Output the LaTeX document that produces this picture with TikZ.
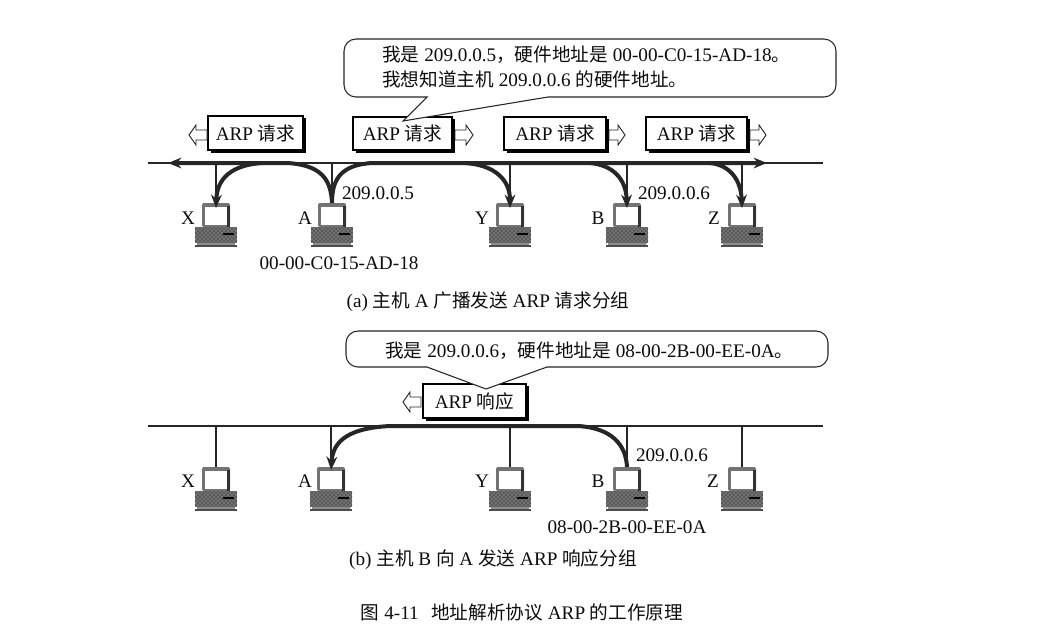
\documentclass[tikz,border=0pt]{standalone}
\usepackage{fontspec}
\setmainfont{Liberation Serif}
\newfontfamily\cjk[Scale=0.97]{Noto Sans CJK SC}
\usetikzlibrary{arrows.meta,calc,patterns}
\newcommand{\zh}[1]{{\cjk #1}}
\tikzset{
  txt/.style={inner sep=0pt,font=\fontsize{14.4}{17}\selectfont,text=black!95},
  busline/.style={line width=1.1pt,black!85},
  tap/.style={line width=0.9pt,black!85},
  flow/.style={line width=3pt,black!85,line cap=butt},
  flowtip/.style={flow,-{Stealth[length=10pt,width=8pt]}},
  pktbox/.style={draw=black,line width=0.8pt,fill=white},
  pktshadow/.style={fill=black},
  hollow/.style={draw=black!85,line width=0.7pt,fill=white,line join=miter},
  callout/.style={draw=black!85,line width=0.8pt,fill=white},
  pc/.style={pattern=crosshatch dots,pattern color=black},
}
% computer: name, centre x, top y
\newcommand{\computer}[3]{%
  \begin{scope}[shift={(#2,#3)}]
    \coordinate (#1) at (0,0);
    \fill[black!55,rounded corners=1.5pt] (-14,0) rectangle (14,24);
    \fill[black!80] (11,3) rectangle (14,24);
    \fill[white] (-11,4) rectangle (11,22);
    \fill[black!55] (-21,24) rectangle (21,40);
    \fill[pc] (-21,24) rectangle (21,40);
    \fill[black] (7,30) rectangle (18,32);
    \fill[black!45] (-19,40) rectangle (19,41.5);
    \fill[black!70] (-21,41.5) rectangle (21,44);
  \end{scope}}
% packet box with thick shadow: name, x0,y0,x1,y1,text
\newcommand{\packet}[6]{%
  \fill[pktshadow] (#2+2.5,#3+2) rectangle (#4+2.5,#5+2.5);
  \draw[pktbox] (#2,#3) rectangle (#4,#5);
  \node[txt] (#1) at ({(#2+#4)/2},{(#3+#5)/2}) {#6};}
\newcommand{\rightarrowbox}[3]{% x0, x1, y
  \draw[hollow] (#1,#3-5) -- (#2-7,#3-5) -- (#2-7,#3-10) -- (#2,#3) -- (#2-7,#3+10) -- (#2-7,#3+5) -- (#1,#3+5) -- cycle;}
\newcommand{\leftarrowbox}[3]{% x0(tip), x1, y
  \draw[hollow] (#2,#3-5) -- (#1+7,#3-5) -- (#1+7,#3-10) -- (#1,#3) -- (#1+7,#3+10) -- (#1+7,#3+5) -- (#2,#3+5) -- cycle;}
\begin{document}
\begin{tikzpicture}[x=0.75pt,y=-0.75pt]
\useasboundingbox (0,0) rectangle (1048,637);
\fill[white] (0,0) rectangle (1048,637);

%%%% part (a)
\coordinate (busLa) at (148,163);
\coordinate (busRa) at (823,163);
\draw[busline] (busLa) -- (busRa);
\computer{Xa}{216}{203}
\computer{Aa}{332}{203}
\computer{Ya}{510}{203}
\computer{Ba}{627}{203}
\computer{Za}{742}{203}
\foreach \c in {Xa,Aa,Ya,Ba,Za} \draw[tap] (\c |- busLa) -- (\c);

\coordinate (ALa) at (168,163);
\coordinate (ARa) at (767,163);
\draw[flowtip] (Aa) .. controls (331,180) and (322,165) .. (287,163) -- (ALa);
\draw[flowtip] (Aa) .. controls (332,180) and (340,165) .. (372,163) -- (ARa);
\draw[flowtip] (262,163) .. controls (232,165) and (217,178) .. ($(Xa)+(0,5)$);
\draw[flowtip] (465,163) .. controls (495,165) and (510,180) .. ($(Ya)+(0,5)$);
\draw[flowtip] (590,163) .. controls (612,165) and (626,178) .. ($(Ba)+(0,5)$);
\draw[flowtip] (710,163) .. controls (730,165) and (741,180) .. ($(Za)+(0,5)$);

\packet{p1}{208}{116}{303}{150}{ARP \zh{请求}}
\packet{p2}{353}{117}{452}{150}{ARP \zh{请求}}
\packet{p3}{504}{117}{606}{150}{ARP \zh{请求}}
\packet{p4}{646}{117}{747}{150}{ARP \zh{请求}}
\leftarrowbox{189}{207}{135}
\rightarrowbox{455}{473}{135}
\rightarrowbox{609}{625}{135}
\rightarrowbox{750}{766}{135}

\draw[callout] (427,97) -- (400,97) [rounded corners=9pt] -- (344,97) -- (344,39) -- (836,39) -- (836,97) -- (600,97) [sharp corners] -- (548,97) -- (403,121) -- cycle;
\node[txt,anchor=west] (c1a) at (382,55) {\zh{我是} 209.0.0.5\zh{，硬件地址是} 00-00-C0-15-AD-18\zh{。}};
\node[txt,anchor=west] (c1b) at (382,79) {\zh{我想知道主机} 209.0.0.6 \zh{的硬件地址。}};

\node[txt] (lXa) at (188,218) {X};
\node[txt] (lAa) at (305,218) {A};
\node[txt] (lYa) at (482,218) {Y};
\node[txt] (lBa) at (598,218) {B};
\node[txt] (lZa) at (714,218) {Z};
\node[txt] (ipA) at (378,193) {209.0.0.5};
\node[txt] (ipBa) at (674,193) {209.0.0.6};
\node[txt] (macA) at (339,263) {00-00-C0-15-AD-18};
\node[txt] (capa) at (488,302) {(a) \zh{主机} A \zh{广播发送} ARP \zh{请求分组}};

%%%% part (b)
\coordinate (busLb) at (148,426);
\coordinate (busRb) at (823,426);
\draw[busline] (busLb) -- (busRb);
\computer{Xb}{216}{467}
\computer{Ab}{331}{467}
\computer{Yb}{510}{467}
\computer{Bb}{627}{467}
\computer{Zb}{742}{467}
\foreach \c in {Xb,Ab,Yb,Bb,Zb} \draw[tap] (\c |- busLb) -- (\c);
\draw[flowtip] (Bb) .. controls (626,445) and (612,428) .. (578,426) -- (390,426) .. controls (350,428) and (333,440) .. ($(Ab)+(0,3)$);

\packet{p5}{423}{384}{526}{418}{ARP \zh{响应}}
\leftarrowbox{403}{421}{402}

\draw[callout] (427,367) -- (400,367) [rounded corners=9pt] -- (346,367) -- (346,331) -- (828,331) -- (828,367) -- (600,367) [sharp corners] -- (547,367) -- (486,389) -- cycle;
\node[txt,anchor=west] (c2) at (385,351) {\zh{我是} 209.0.0.6\zh{，硬件地址是} 08-00-2B-00-EE-0A\zh{。}};

\node[txt] (lXb) at (188,481) {X};
\node[txt] (lAb) at (305,481) {A};
\node[txt] (lYb) at (482,481) {Y};
\node[txt] (lBb) at (598,481) {B};
\node[txt] (lZb) at (713,481) {Z};
\node[txt] (ipBb) at (672,455) {209.0.0.6};
\node[txt] (macB) at (627,527) {08-00-2B-00-EE-0A};
\node[txt] (capb) at (493,560) {(b) \zh{主机} B \zh{向} A \zh{发送} ARP \zh{响应分组}};

\node[txt] (fig) at (522,612) {\zh{图} 4-11\hspace{0.65em}\zh{地址解析协议} ARP \zh{的工作原理}};
\end{tikzpicture}
\end{document}
